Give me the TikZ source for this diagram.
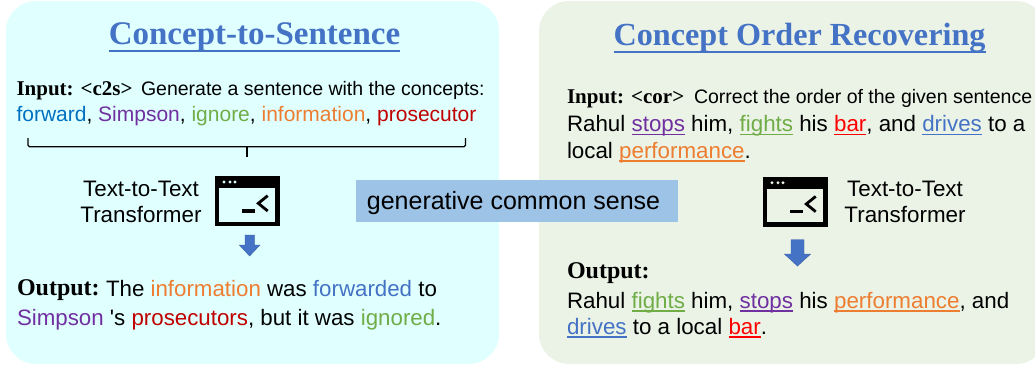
\documentclass[tikz,border=0pt]{standalone}
\usepackage{fontspec}
\setmainfont{Liberation Sans}
\newfontfamily\headfont{Liberation Serif}
\definecolor{panelA}{HTML}{E0FFFF}
\definecolor{panelB}{HTML}{EBF3E7}
\definecolor{bandC}{HTML}{9DC3E6}
\definecolor{blueT}{HTML}{4472C4}
\definecolor{blueF}{HTML}{0070C0}
\definecolor{purpleC}{HTML}{7030A0}
\definecolor{greenC}{HTML}{70AD47}
\definecolor{orangeC}{HTML}{ED7D31}
\definecolor{redC}{HTML}{C00000}
\definecolor{redB}{HTML}{FF0000}
\newcommand{\ulc}[2]{{\color{#1}\setbox0\hbox{#2}\rlap{\rule[-3.6pt]{\wd0}{1.5pt}}\box0}}
\newcommand{\cw}[2]{{\color{#1}#2}}
\newcommand{\bodyl}{\fontsize{22.3}{26}\selectfont}
\newcommand{\bodyr}{\fontsize{22.35}{26}\selectfont}
\newcommand{\conceptf}{\fontsize{21}{25}\selectfont}
\newcommand{\smallf}{\fontsize{19.5}{23}\selectfont}
\newcommand{\labf}{\fontsize{22.4}{26}\selectfont}
\newcommand{\headf}{\headfont\bfseries\fontsize{21}{24}\selectfont}
\newcommand{\outf}{\headfont\bfseries\fontsize{24}{27}\selectfont}
\newcommand{\termicon}[2]{%
  \begin{scope}[shift={(#1,#2)}]
    \fill[black] (0,0) rectangle (64.5,50);
    \fill[iconbg] (4.3,12.3) rectangle (60,45.7);
    \fill[iconbg] (9,6) circle (1.6) (15,6) circle (1.6) (20,6) circle (1.6);
    \fill[black] (27,33) rectangle (40,36.7);
    \draw[black,line width=2.8pt] (52.7,19.7) -- (43.3,27.3) -- (52.7,35);
  \end{scope}}
\tikzset{
  x=1pt,y=-1pt,
  txt/.style={anchor=base west,inner sep=0pt,outer sep=0pt,text=black},
  ctr/.style={anchor=base,inner sep=0pt,outer sep=0pt,text=black,font=\labf},
  ttl/.style={anchor=base,inner sep=0pt,outer sep=0pt,text=blueT,font=\headfont\bfseries\fontsize{33}{38}\selectfont},
  ttlrule/.style={draw=blueT,line width=1.6pt},
  blockarrow/.style={fill=blueT,draw=blueT!85!black,line width=0.4pt},
  bracket/.style={draw=black,line width=1.2pt,rounded corners=1.5pt}
}
\begin{document}
\begin{tikzpicture}
\useasboundingbox (0,0) rectangle (1035,365);
\clip (0,0) rectangle (1035,365);
% panels
\fill[panelA,rounded corners=30pt] (6,1) rectangle (499,364);
\fill[panelB,rounded corners=30pt] (539,1) rectangle (1046,364);
% left panel
\node[ttl] (t1) at (254.5,44) {Concept-to-Sentence};
\draw[ttlrule] (t1.base west)++(0,7) coordinate (t1a) -- (t1.base east|-t1a);
\node[txt,font=\headf] (inL) at (16.5,95) {Input: <c2s>};
\node[txt,font=\smallf] (inA) at (141,95) {Generate a sentence with the concepts:};
\node[txt,font=\conceptf] (inB) at (16.5,121) {\cw{blueF}{forward}, \cw{purpleC}{Simpson}, \cw{greenC}{ignore}, \cw{orangeC}{information}, \cw{redC}{prosecutor}};
\coordinate (bl) at (28,138); \coordinate (br) at (465.5,138); \coordinate (bm) at (246.7,156.5);
\draw[bracket] (bl) -- (bl|-0,146.7) -- (br|-0,146.7) -- (br);
\draw[draw=black,line width=1.8pt] (bm) -- (bm|-0,146.7);
\colorlet{iconbg}{panelA}
\termicon{215}{176}
\node[ctr] (tt1) at (141,196) {Text-to-Text};
\node[ctr] (tt2) at (141,222.5) {Transformer};
\path[blockarrow] (245,235) -- (254.3,235) -- (254.3,245) -- (260,245) -- (249.6,256) -- (239.3,245) -- (245,245) -- cycle;
\node[txt,font=\outf] (outL) at (17,295) {Output:};
\node[txt,font=\bodyl] (outA) at (106,296) {The \cw{orangeC}{information} was \cw{blueT}{forwarded} to};
\node[txt,font=\bodyl] (outB) at (17,325) {\cw{purpleC}{Simpson} \textquotesingle s \cw{redC}{prosecutors}, but it was \cw{greenC}{ignored}.};
% right panel
\node[ttl,font=\headfont\bfseries\fontsize{32.2}{38}\selectfont] (t2) at (799.5,45) {Concept Order Recovering};
\draw[ttlrule] (t2.base west)++(0,7) coordinate (t2a) -- (t2.base east|-t2a);
\node[txt,font=\headf] (rinL) at (567,103) {Input: <cor>};
\node[txt,font=\smallf] (rinA) at (694,103) {Correct the order of the given sentence};
\node[txt,font=\bodyr] (rinB) at (567,131.5) {Rahul \ulc{purpleC}{stops} him, \ulc{greenC}{fights} his \ulc{redB}{bar}, and \ulc{blueT}{drives} to a};
\node[txt,font=\bodyr] (rinC) at (567,158) {local \ulc{orangeC}{performance}.};
\colorlet{iconbg}{panelB}
\termicon{763}{176.7}
\node[ctr] (tt3) at (905,196) {Text-to-Text};
\node[ctr] (tt4) at (905,222.5) {Transformer};
\path[blockarrow] (791,239.7) -- (804,239.7) -- (804,254) -- (810.7,254) -- (797.5,266) -- (784.3,254) -- (791,254) -- cycle;
\node[txt,font=\outf] (routA) at (567,278) {Output:};
\node[txt,font=\bodyr] (routB) at (567,308) {Rahul \ulc{greenC}{fights} him, \ulc{purpleC}{stops} his \ulc{orangeC}{performance}, and};
\node[txt,font=\bodyr] (routC) at (567,334) {\ulc{blueT}{drives} to a local \ulc{redB}{bar}.};
% band
\node[fill=bandC,minimum width=322pt,minimum height=42pt,inner sep=0pt,anchor=center,text height=16pt,text depth=0pt,font=\fontsize{25}{30}\selectfont,text=black] (band) at (517,201) {generative common sense\kern7pt};
\end{tikzpicture}
\end{document}
